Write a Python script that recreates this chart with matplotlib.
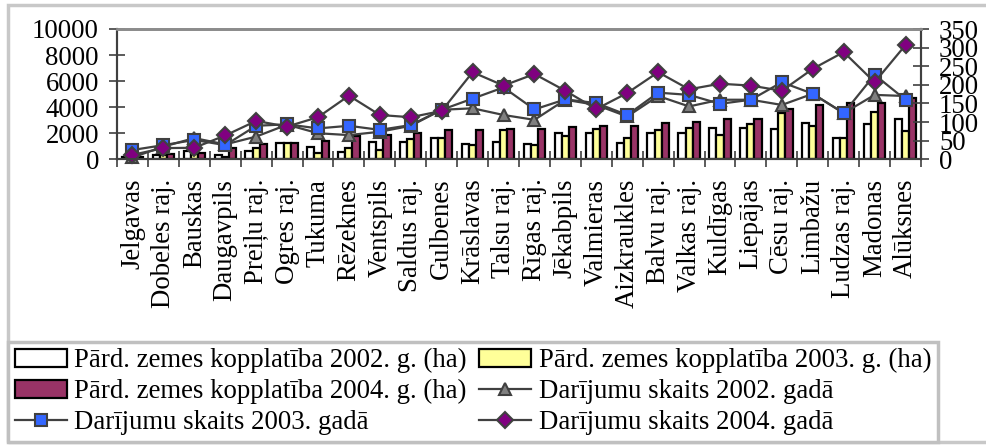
import numpy as np
import matplotlib
matplotlib.use("Agg")
import matplotlib.pyplot as plt
from matplotlib.patches import Rectangle

plt.rcParams['font.family'] = ['Liberation Serif', 'DejaVu Serif']

regions = ['Jelgavas', 'Dobeles raj.', 'Bauskas', 'Daugavpils', 'Preiļu raj.',
           'Ogres raj.', 'Tukuma', 'Rēzeknes', 'Ventspils', 'Saldus raj.',
           'Gulbenes', 'Krāslavas', 'Talsu raj.', 'Rīgas raj.', 'Jēkabpils',
           'Valmieras', 'Aizkraukles', 'Balvu raj.', 'Valkas raj.', 'Kuldīgas',
           'Liepājas', 'Cēsu raj.', 'Limbažu', 'Ludzas raj.', 'Madonas', 'Alūksnes']

# sold land area, ha
area_2002 = [150, 330, 660, 330, 640, 1230, 970, 590, 1350, 1350, 1610, 1180, 1350,
             1180, 2000, 2000, 1280, 2000, 2050, 2380, 2380, 2330, 2770, 1610, 2710, 3100]
area_2003 = [100, 300, 400, 200, 850, 1230, 460, 890, 715, 1540, 1610, 1080, 2250,
             1100, 1790, 2300, 1610, 2250, 2380, 1870, 2690, 3540, 2580, 1610, 3660, 2180]
area_2004 = [150, 385, 460, 850, 1150, 1230, 1400, 1790, 1870, 2050, 2250, 2250, 2300,
             2300, 2460, 2580, 2560, 2770, 2890, 3080, 3080, 3840, 4180, 4300, 4300, 4690]

# number of deals
deals_2002 = [5, 34, 57, 40, 61, 93, 70, 65, 74, 90, 133, 137, 119, 106, 160, 146,
              115, 170, 142, 160, 160, 146, 176, 124, 173, 170]
deals_2003 = [25, 38, 52, 38, 90, 94, 83, 90, 79, 92, 133, 163, 193, 134, 161, 151,
              119, 179, 173, 149, 160, 207, 176, 124, 227, 160]
deals_2004 = [12, 30, 31, 64, 103, 88, 113, 171, 119, 113, 130, 234, 198, 229, 184,
              135, 178, 234, 188, 203, 198, 184, 243, 288, 207, 307]

W, H = 986, 447
fs = 19.3
dark = '#404040'

fig = plt.figure(figsize=(W / 100, H / 100), dpi=100)
ax = fig.add_axes([117 / W, 1 - 159.3 / H, (921 - 117) / W, (159.3 - 29) / H])
ax2 = ax.twinx()

x = np.arange(len(regions))
w = 0.23
b1 = ax.bar(x - w, area_2002, w, color='white', edgecolor='black', linewidth=1.6)
b2 = ax.bar(x, area_2003, w, color='#ffff99', edgecolor='black', linewidth=1.6)
b3 = ax.bar(x + w, area_2004, w, color='#993366', edgecolor='black', linewidth=1.6)

l1, = ax2.plot(x, deals_2002, color=dark, lw=1.6, marker='^', ms=9,
               mfc='#808080', mec=dark, mew=1.5, clip_on=False)
l2, = ax2.plot(x, deals_2003, color=dark, lw=1.6, marker='s', ms=8.5,
               mfc='#3366ff', mec=dark, mew=1.5, clip_on=False)
l3, = ax2.plot(x, deals_2004, color=dark, lw=1.6, marker='D', ms=8,
               mfc='#800080', mec=dark, mew=1.5, clip_on=False)

ax.set_xlim(-0.5, len(regions) - 0.5)
ax.set_ylim(0, 10000)
ax2.set_ylim(0, 350)
ax.set_yticks(range(0, 10001, 2000))
ax2.set_yticks(range(0, 351, 50))

ax.set_xticks(x)
ax.set_xticklabels(regions, rotation=90, fontsize=fs)
ax.set_xticks(np.arange(len(regions) + 1) - 0.5, minor=True)
ax.tick_params(axis='x', which='major', length=0, pad=14)
ax.tick_params(axis='x', which='minor', direction='inout', length=12, width=1.2, color=dark)
ax.tick_params(axis='y', direction='inout', length=12, width=1.2, color=dark,
               labelsize=fs, pad=7)
ax2.tick_params(axis='y', direction='inout', length=12, width=1.2, color=dark,
                labelsize=fs, pad=7)

for a in (ax, ax2):
    for s in ('left', 'right', 'bottom'):
        a.spines[s].set_color(dark)
        a.spines[s].set_linewidth(1.5)
    a.spines['top'].set_color('#8c8c8c')
    a.spines['top'].set_linewidth(2)

handles = [b1, b3, l2, b2, l1, l3]
labels = ['Pārd. zemes kopplatība 2002. g. (ha)', 'Pārd. zemes kopplatība 2004. g. (ha)',
          'Darījumu skaits 2003. gadā', 'Pārd. zemes kopplatība 2003. g. (ha)',
          'Darījumu skaits 2002. gadā', 'Darījumu skaits 2004. gadā']
leg = fig.legend(handles, labels, ncol=2, mode='expand', loc='lower left',
                 bbox_to_anchor=(8 / W, 5 / H, 930 / W, 0), bbox_transform=fig.transFigure,
                 fontsize=fs, frameon=True, fancybox=False, framealpha=1,
                 edgecolor='#c0c0c0', borderaxespad=0, borderpad=0.25,
                 labelspacing=0.22, handlelength=1.95, handletextpad=0.28,
                 columnspacing=0.3)
leg.get_frame().set_linewidth(2.5)

fig.add_artist(Rectangle((8 / W, 5 / H), 1, 437 / H, transform=fig.transFigure,
                         fill=False, edgecolor='#c8c8c8', linewidth=2.5))

fig.savefig('out.png', dpi=100)
